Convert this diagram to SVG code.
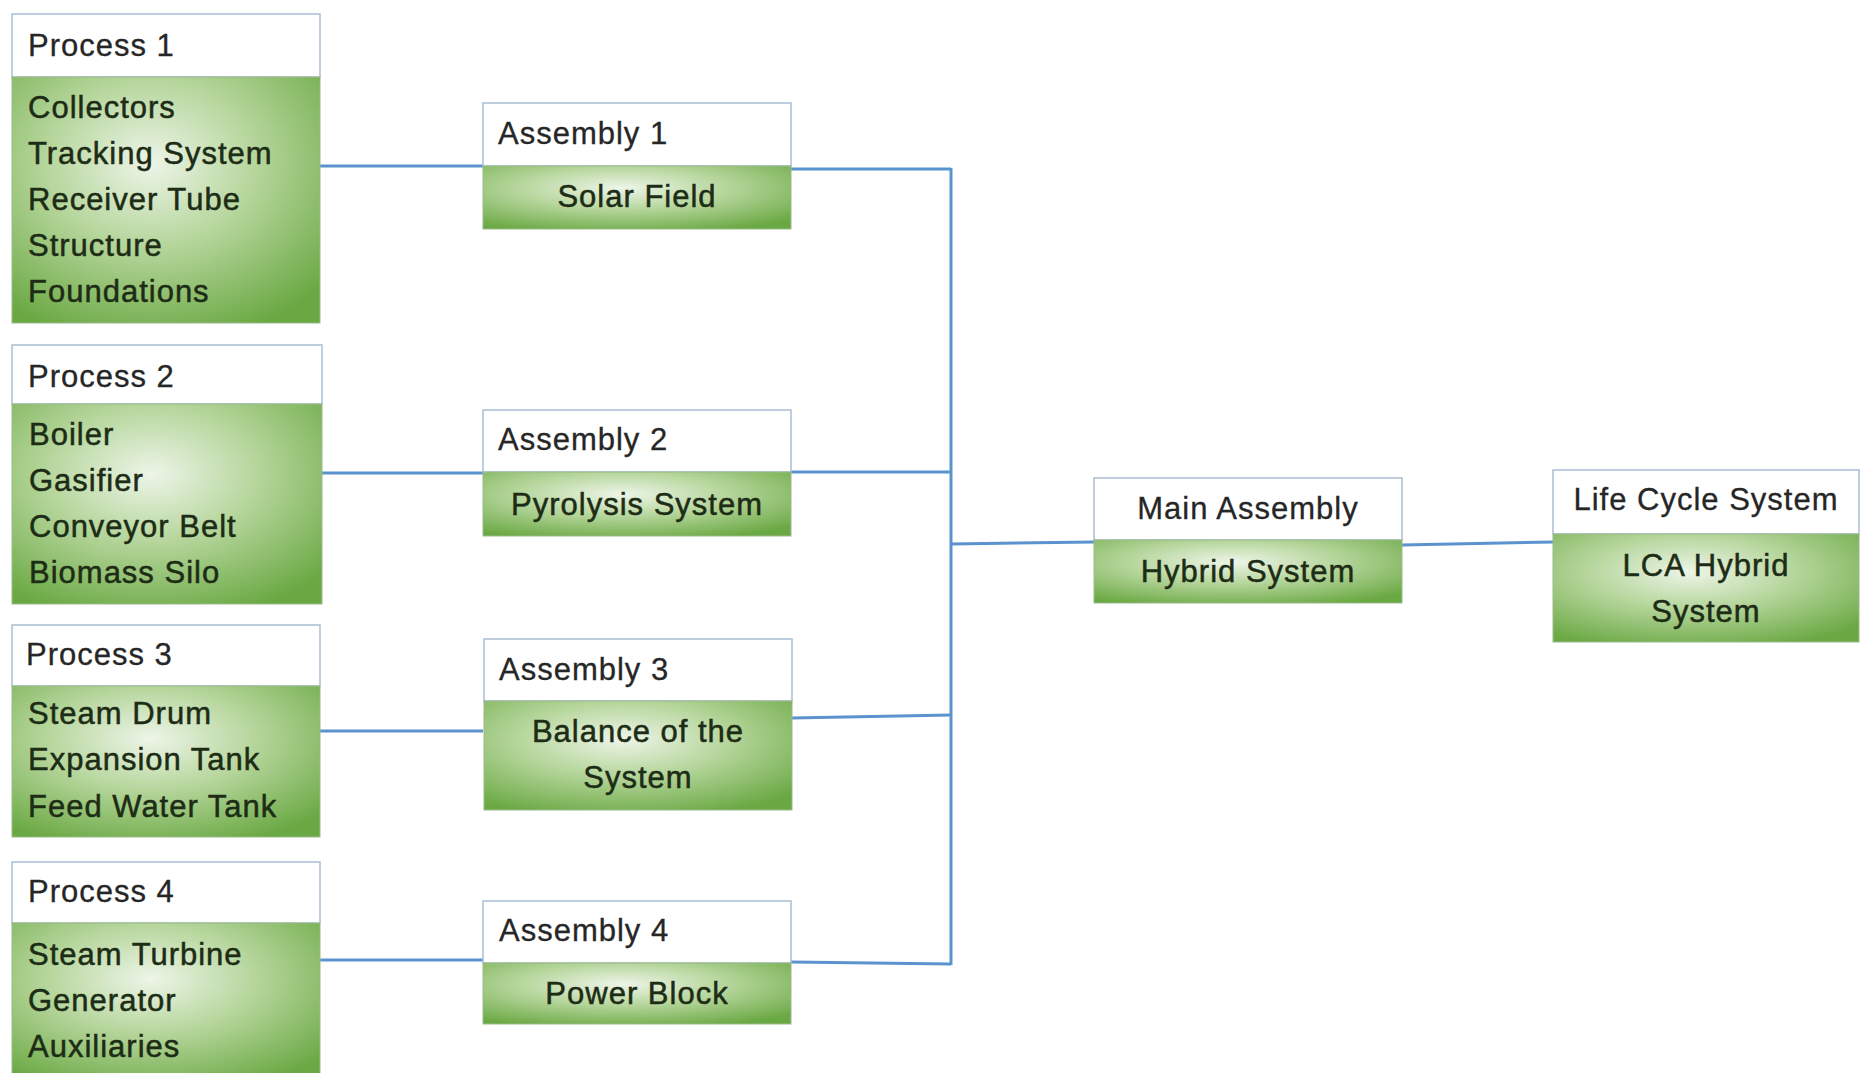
<svg xmlns="http://www.w3.org/2000/svg" width="1860" height="1073" viewBox="0 0 1860 1073">
<defs>
<radialGradient id="g" cx="0.45" cy="0.35" r="0.75">
<stop offset="0" stop-color="#edf5e8"/>
<stop offset="0.45" stop-color="#b6d69c"/>
<stop offset="1" stop-color="#69a842"/>
</radialGradient>
</defs>
<style>
.hd{fill:#ffffff;stroke:#a9bed4;stroke-width:1.5}
.gr{fill:url(#g);stroke:#9bb98a;stroke-width:1}
text{font-family:"Liberation Sans",Arial,sans-serif;font-size:31px;letter-spacing:1px}
.h{fill:#262626;stroke:#262626;stroke-width:0.3}
.t{fill:#1d2c15;stroke:#1d2c15;stroke-width:0.5}
.c{text-anchor:middle}
.ln{stroke:#5b93cf;stroke-width:3;fill:none}
</style>
<rect width="1860" height="1073" fill="#ffffff"/>
<g id="connectors">
<path class="ln" d="M320 166H483"/>
<path class="ln" d="M791 169H951"/>
<path class="ln" d="M322 473H483"/>
<path class="ln" d="M791 472H951"/>
<path class="ln" d="M320 731H483"/>
<path class="ln" d="M792 718L951 715"/>
<path class="ln" d="M320 960H483"/>
<path class="ln" d="M791 962L951 964"/>
<path class="ln" d="M951 168V965"/>
<path class="ln" d="M951 544L1094 542"/>
<path class="ln" d="M1402 545L1553 542"/>
</g>
<g id="process1">
<rect class="hd" x="12" y="14" width="308" height="63"/>
<rect class="gr" x="12" y="77" width="308" height="246"/>
<text class="h" x="28" y="56">Process 1</text>
<text class="t" x="28" y="118">Collectors</text>
<text class="t" x="28" y="164">Tracking System</text>
<text class="t" x="28" y="210">Receiver Tube</text>
<text class="t" x="28" y="256">Structure</text>
<text class="t" x="28" y="302">Foundations</text>
</g>
<g id="process2">
<rect class="hd" x="12" y="345" width="310" height="59"/>
<rect class="gr" x="12" y="404" width="310" height="200"/>
<text class="h" x="28" y="387">Process 2</text>
<text class="t" x="29" y="445">Boiler</text>
<text class="t" x="29" y="491">Gasifier</text>
<text class="t" x="29" y="537">Conveyor Belt</text>
<text class="t" x="29" y="583">Biomass Silo</text>
</g>
<g id="process3">
<rect class="hd" x="12" y="625" width="308" height="61"/>
<rect class="gr" x="12" y="686" width="308" height="151"/>
<text class="h" x="26" y="665">Process 3</text>
<text class="t" x="28" y="724">Steam Drum</text>
<text class="t" x="28" y="770">Expansion Tank</text>
<text class="t" x="28" y="817">Feed Water Tank</text>
</g>
<g id="process4">
<rect class="hd" x="12" y="862" width="308" height="61"/>
<rect class="gr" x="12" y="923" width="308" height="160"/>
<text class="h" x="28" y="902">Process 4</text>
<text class="t" x="28" y="965">Steam Turbine</text>
<text class="t" x="28" y="1011">Generator</text>
<text class="t" x="28" y="1057">Auxiliaries</text>
</g>
<g id="assembly1">
<rect class="hd" x="483" y="103" width="308" height="63"/>
<rect class="gr" x="483" y="166" width="308" height="63"/>
<text class="h" x="498" y="144">Assembly 1</text>
<text class="t c" x="637" y="207">Solar Field</text>
</g>
<g id="assembly2">
<rect class="hd" x="483" y="410" width="308" height="62"/>
<rect class="gr" x="483" y="472" width="308" height="64"/>
<text class="h" x="498" y="450">Assembly 2</text>
<text class="t c" x="637" y="515">Pyrolysis System</text>
</g>
<g id="assembly3">
<rect class="hd" x="484" y="639" width="308" height="62"/>
<rect class="gr" x="484" y="701" width="308" height="109"/>
<text class="h" x="499" y="680">Assembly 3</text>
<text class="t c" x="638" y="742">Balance of the</text>
<text class="t c" x="638" y="788">System</text>
</g>
<g id="assembly4">
<rect class="hd" x="483" y="901" width="308" height="62"/>
<rect class="gr" x="483" y="963" width="308" height="61"/>
<text class="h" x="499" y="941">Assembly 4</text>
<text class="t c" x="637" y="1004">Power Block</text>
</g>
<g id="main">
<rect class="hd" x="1094" y="478" width="308" height="62"/>
<rect class="gr" x="1094" y="540" width="308" height="63"/>
<text class="h c" x="1248" y="519">Main Assembly</text>
<text class="t c" x="1248" y="582">Hybrid System</text>
</g>
<g id="lca">
<rect class="hd" x="1553" y="470" width="306" height="64"/>
<rect class="gr" x="1553" y="534" width="306" height="108"/>
<text class="h c" x="1706" y="510">Life Cycle System</text>
<text class="t c" x="1706" y="576">LCA Hybrid</text>
<text class="t c" x="1706" y="622">System</text>
</g>
</svg>
